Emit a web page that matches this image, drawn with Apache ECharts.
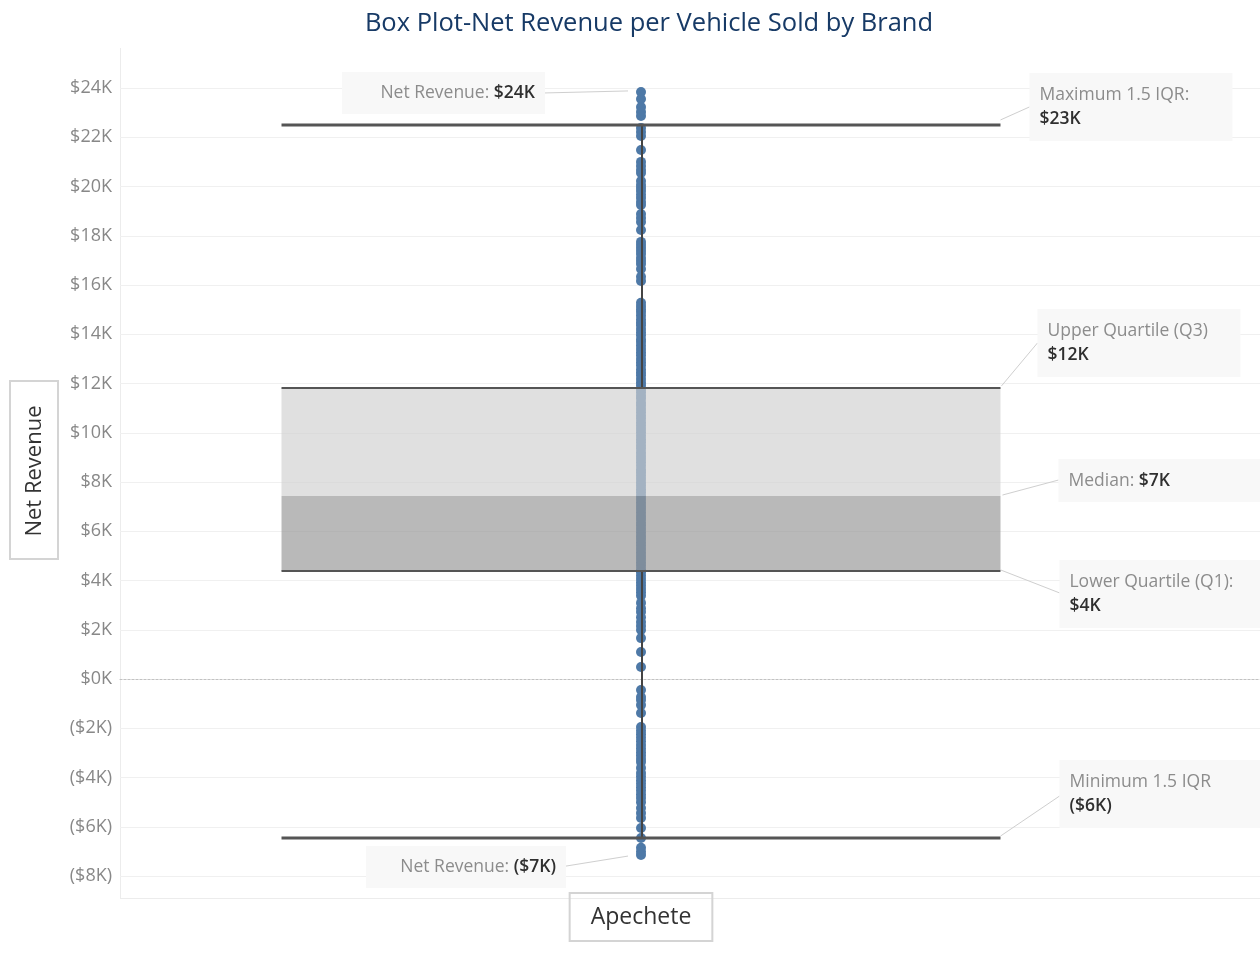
<!DOCTYPE html>
<html>
<head>
<meta charset="utf-8">
<title>Box Plot-Net Revenue per Vehicle Sold by Brand</title>
<script src="https://cdn.jsdelivr.net/npm/echarts@6/dist/echarts.min.js"></script>
<style>
  html, body { margin: 0; padding: 0; background: #ffffff; }
  #chart { width: 1260px; height: 962px; }
</style>
</head>
<body>
<div id="chart"></div>
<script>
// Brand on the x axis
const brands = ['Apechete'];

// Net revenue per vehicle sold (USD), one value per sale
const netRevenue = [
  23840, 23550, 23230, 23030, 22860, 22380, 22210, 22050, 21480, 21000,
  20830, 20670, 20550, 20220, 20060, 19940, 19820, 19660, 19530, 19370,
  19250, 18880, 18720, 18560, 18230, 17750, 17620, 17500, 17380, 17260,
  17100, 16970, 16850, 16650, 16330, 16160,
  15280, 15150, 15020, 14900, 14760, 14610, 14480, 14370, 14210, 14080,
  13960, 13800, 13690, 13540, 13400, 13270, 13150, 12990, 12860, 12740,
  12580, 12450, 12330, 12180, 12040, 11920, 11770, 11640, 11500, 11390,
  11230, 11110, 10960, 10830, 10690, 10570, 10420, 10280, 10150, 10020,
  9880, 9740, 9610, 9470, 9350, 9200, 9060, 8930, 8800, 8660,
  8510, 8390, 8250, 8120, 7980, 7850, 7710, 7580, 7440, 7310,
  7170, 7030, 6900, 6760, 6620, 6500, 6350, 6220, 6090, 5950,
  5810, 5690, 5540, 5410, 5280, 5140, 5000, 4870, 4730, 4600,
  4460, 4330, 4190, 4060, 3920, 3790, 3650, 3520, 3380, 3090,
  2870, 2720, 2510, 2310, 2150, 1990, 1660, 1100, 490,
  -450, -730, -850, -1060, -1380, -1950, -2100, -2240, -2390, -2530,
  -2680, -2820, -2970, -3110, -3250, -3370, -3610, -3820, -3960, -4110,
  -4250, -4400, -4540, -4690, -4830, -5000, -5240, -5440, -5640, -6050,
  -6460, -6850, -7020, -7150
];

// Box plot statistics per brand (USD)
const lowerWhisker = [-6460];
const lowerQuartile = [4390];
const medianValue = [7430];
const upperQuartile = [11820];
const upperWhisker = [22500];

// Value axis range and tick step (USD)
const yMin = -8000;
const yMax = 24000;
const yStep = 2000;

const FONT = '"Open Sans", "Noto Sans", sans-serif';
const NOTE_SIZE = 17.5;

function fmtK(v) {
  const k = Math.round(Math.abs(v) / 1000);
  return v < 0 ? '($' + k + 'K)' : '$' + k + 'K';
}

const maxPoint = Math.max(...netRevenue);
const minPoint = Math.min(...netRevenue);

const boxData = brands.map((b, i) => [
  i, lowerWhisker[i], lowerQuartile[i], medianValue[i], upperQuartile[i], upperWhisker[i], maxPoint, minPoint
]);

const chart = echarts.init(document.getElementById('chart'), null, { renderer: 'canvas' });

// Annotation callout: light panel, caption in grey, value in dark
function callout(x, y, w, h, lines, align) {
  const textX = align === 'right' ? x + w - 10 : x + 10;
  const children = [{
    type: 'rect',
    shape: { x: x, y: y, width: w, height: h },
    style: { fill: '#f8f8f8' }
  }];
  const n = lines.length;
  lines.forEach((ln, k) => {
    const cy = y + h / 2 + (k - (n - 1) / 2) * 24;
    children.push({
      type: 'text',
      x: textX, y: cy,
      style: {
        text: ln,
        align: align,
        verticalAlign: 'middle',
        font: NOTE_SIZE + 'px ' + FONT,
        rich: {
          c: { fill: '#8c8c8c', font: NOTE_SIZE + 'px ' + FONT },
          v: { fill: '#2f2f2f', font: '600 ' + NOTE_SIZE + 'px ' + FONT }
        }
      }
    });
  });
  return children;
}

function leader(x1, y1, x2, y2) {
  return {
    type: 'line',
    shape: { x1: x1, y1: y1, x2: x2, y2: y2 },
    style: { stroke: '#cfcfcf', lineWidth: 1 }
  };
}

function renderBox(params, api) {
  const cat = api.value(0);
  const lo = api.value(1), q1 = api.value(2), med = api.value(3), q3 = api.value(4), hi = api.value(5);
  const pMax = api.value(6), pMin = api.value(7);
  const band = api.size([1, 0])[0];
  const boxW = band * 0.69;
  const cx = api.coord([cat, 0])[0];
  const Y = v => api.coord([cat, v])[1];
  const L = cx - boxW / 2, R = cx + boxW / 2;
  const dark = '#555555';

  const els = [
    { type: 'rect', shape: { x: L, y: Y(q3), width: boxW, height: Y(med) - Y(q3) },
      style: { fill: 'rgba(208,208,208,0.66)' } },
    { type: 'rect', shape: { x: L, y: Y(med), width: boxW, height: Y(q1) - Y(med) },
      style: { fill: 'rgba(151,151,151,0.67)' } },
    { type: 'line', shape: { x1: cx + 1, y1: Y(hi), x2: cx + 1, y2: Y(q3) }, style: { stroke: '#444', lineWidth: 2 } },
    { type: 'line', shape: { x1: cx + 1, y1: Y(q1), x2: cx + 1, y2: Y(lo) }, style: { stroke: '#444', lineWidth: 2 } },
    { type: 'line', shape: { x1: L, y1: Y(q3), x2: R, y2: Y(q3) }, style: { stroke: dark, lineWidth: 2 } },
    { type: 'line', shape: { x1: L, y1: Y(q1), x2: R, y2: Y(q1) }, style: { stroke: dark, lineWidth: 2 } },
    { type: 'line', shape: { x1: L, y1: Y(hi), x2: R, y2: Y(hi) }, style: { stroke: dark, lineWidth: 3 } },
    { type: 'line', shape: { x1: L, y1: Y(lo), x2: R, y2: Y(lo) }, style: { stroke: dark, lineWidth: 3 } }
  ];

  // Callouts for the box statistics, to the right of the box
  els.push(leader(R, Y(hi) - 5, R + 29, Y(hi) - 18));
  els.push(...callout(R + 29, Y(hi) - 52, 203, 68,
    ['{c|Maximum 1.5 IQR:}', '{v|' + fmtK(hi) + '}'], 'left'));

  els.push(leader(R + 1, Y(q3) - 2, R + 37, Y(q3) - 45));
  els.push(...callout(R + 37, Y(q3) - 79, 203, 68,
    ['{c|Upper Quartile (Q3)}', '{v|' + fmtK(q3) + '}'], 'left'));

  els.push(leader(R + 2, Y(med) - 1, R + 58, Y(med) - 16));
  els.push(...callout(R + 58, Y(med) - 37, 205, 43,
    ['{c|Median: }{v|' + fmtK(med) + '}'], 'left'));

  els.push(leader(R, Y(q1) - 1, R + 59, Y(q1) + 22));
  els.push(...callout(R + 59, Y(q1) - 11, 205, 68,
    ['{c|Lower Quartile (Q1):}', '{v|' + fmtK(q1) + '}'], 'left'));

  els.push(leader(R, Y(lo) - 2, R + 59, Y(lo) - 42));
  els.push(...callout(R + 59, Y(lo) - 78, 205, 68,
    ['{c|Minimum 1.5 IQR}', '{v|' + fmtK(lo) + '}'], 'left'));

  // Callouts for the extreme points, to the left of the column
  els.push(leader(cx - 96, Y(pMax) + 1, cx - 13, Y(pMax) - 1));
  els.push(...callout(cx - 299, Y(pMax) - 20, 203, 42,
    ['{c|Net Revenue: }{v|' + fmtK(pMax) + '}'], 'right'));

  els.push(leader(cx - 75, Y(pMin) + 11, cx - 13, Y(pMin) + 1));
  els.push(...callout(cx - 275, Y(pMin) - 9, 200, 42,
    ['{c|Net Revenue: }{v|' + fmtK(pMin) + '}'], 'right'));

  return { type: 'group', children: els };
}

const option = {
  backgroundColor: '#ffffff',
  animation: false,
  title: {
    text: 'Box Plot-Net Revenue per Vehicle Sold by Brand',
    left: 644,
    textAlign: 'center',
    top: 6,
    textStyle: { color: '#173a66', fontSize: 25.5, fontWeight: 'normal', fontFamily: FONT }
  },
  graphic: [
    // pane frame
    { type: 'line', shape: { x1: 120.5, y1: 48, x2: 120.5, y2: 898 }, style: { stroke: '#ececec', lineWidth: 1 }, silent: true },
    { type: 'line', shape: { x1: 120, y1: 898.5, x2: 1260, y2: 898.5 }, style: { stroke: '#ececec', lineWidth: 1 }, silent: true },
    // y axis title
    { type: 'rect', shape: { x: 10, y: 381, width: 48, height: 178 },
      style: { fill: 'none', stroke: '#d4d4d4', lineWidth: 2 }, silent: true },
    { type: 'text', x: 35, y: 471, rotation: Math.PI / 2,
      style: { text: 'Net Revenue', align: 'center', verticalAlign: 'middle',
               font: '22px ' + FONT, fill: '#333333' }, silent: true }
  ],
  grid: [
    { left: 120, width: 1042, top: 88, height: 788 },
    { left: 120, right: 0, top: 88, height: 788 }
  ],
  xAxis: [
    {
      gridIndex: 0, type: 'category', data: brands,
      axisLine: { show: false }, axisTick: { show: false },
      axisLabel: {
        margin: 17, fontSize: 23, color: '#333333', fontFamily: FONT,
        borderColor: '#d4d4d4', borderWidth: 2, padding: [10, 21, 10, 21], lineHeight: 28
      }
    },
    {
      gridIndex: 1, type: 'value', min: 0, max: 1,
      axisLabel: { show: false }, axisTick: { show: false }, splitLine: { show: false },
      axisLine: { show: true, onZero: true, lineStyle: { color: '#c2c2c2', type: [2, 2], width: 1 } }
    }
  ],
  yAxis: [
    { gridIndex: 0, type: 'value', min: yMin, max: yMax, interval: yStep, show: false },
    {
      gridIndex: 1, type: 'value', min: yMin, max: yMax, interval: yStep,
      axisLine: { show: false }, axisTick: { show: false },
      axisLabel: { formatter: fmtK, color: '#888888', fontSize: 18, margin: 8, fontFamily: FONT },
      splitLine: { show: true, lineStyle: { color: '#f0f0f0', width: 1 } }
    }
  ],
  series: [
    {
      type: 'scatter', xAxisIndex: 0, yAxisIndex: 0, z: 2,
      symbol: 'circle', symbolSize: 10,
      itemStyle: { color: '#4e79a7', opacity: 1 },
      data: netRevenue.map(v => [brands[0], v])
    },
    {
      type: 'custom', xAxisIndex: 0, yAxisIndex: 0, z: 3,
      renderItem: renderBox,
      data: boxData
    }
  ]
};

chart.setOption(option);
</script>
</body>
</html>
